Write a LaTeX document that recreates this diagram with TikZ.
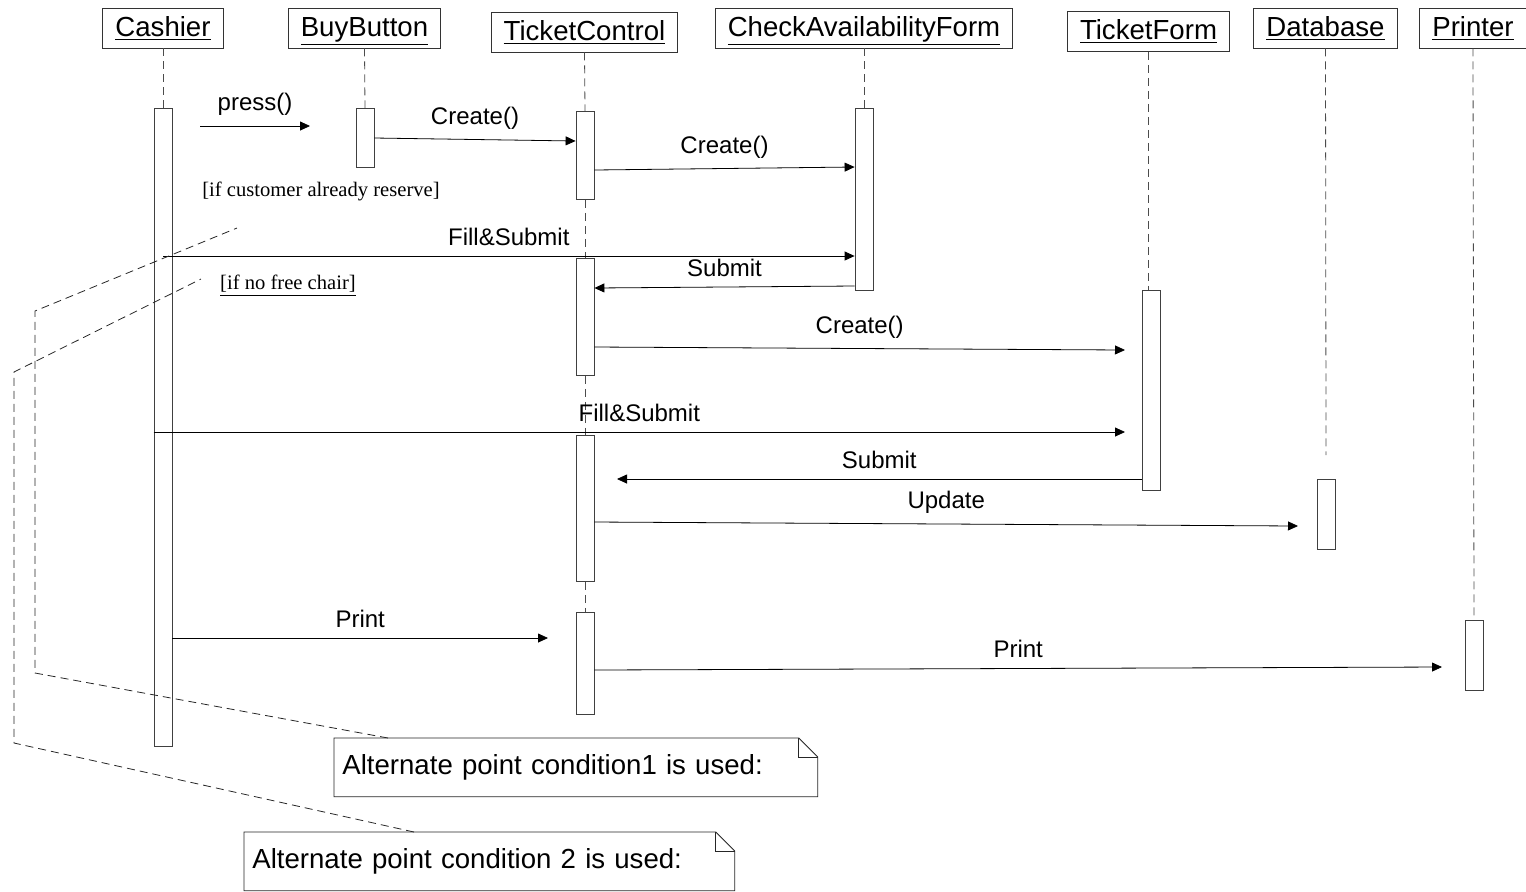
\documentclass[tikz,border=0pt]{standalone}
\usepackage{fontspec}
\setmainfont{Liberation Sans}
\newfontfamily\guardfont{Liberation Serif}
\usetikzlibrary{arrows.meta,shapes}

\tikzset{
  obj/.style={draw=black!80,rectangle,minimum height=20pt,inner xsep=6.3pt,inner ysep=3pt,text height=11pt,text depth=3pt,font=\fontsize{13.8}{16}\selectfont},
  act/.style={draw=black!75,fill=white,rectangle,minimum width=9pt,inner sep=0pt,anchor=north},
  life/.style={draw=black!70,dash pattern=on 4pt off 2.5pt},
  msg/.style={-{Triangle[length=5pt,width=4.5pt]},black},
  lbl/.style={font=\fontsize{12}{14}\selectfont,inner sep=0pt,above=5pt},
  guard/.style={font=\guardfont\fontsize{10.3}{12}\selectfont,inner sep=0pt},
  note/.style={rectangle,anchor=north west,inner xsep=4pt,inner ysep=0pt,minimum height=29pt,align=left,font=\fontsize{13.8}{16}\selectfont},
  notebox/.style={draw=black!85},
  notelink/.style={draw=black!85,dash pattern=on 4pt off 2.5pt}
}

\begin{document}
\begin{tikzpicture}[x=0.5pt,y=-0.5pt]
%
\useasboundingbox (0,0) rectangle (1526,891);
%
\node[obj] (csh) at (163,28) {\underline{Cashier}};
\node[obj] (bbh) at (364.5,28) {\underline{BuyButton}};
\node[obj] (tch) at (584.5,32) {\underline{TicketControl}};
\node[obj] (cafh) at (864,28) {\underline{CheckAvailabilityForm}};
\node[obj] (tfh) at (1148.5,31.5) {\underline{TicketForm}};
\node[obj] (dbh) at (1325.5,28) {\underline{Database}};
\node[obj] (prh) at (1473,28) {\underline{Printer}};
%
\node[act,minimum height=319pt] (cs) at (163,108) {};
\node[act,minimum height=29.5pt] (bb) at (365,108) {};
\node[act,minimum height=44pt] (tc1) at (585,111) {};
\node[act,minimum height=58.5pt] (tc2) at (585,258) {};
\node[act,minimum height=73pt] (tc3) at (585,435) {};
\node[act,minimum height=51pt] (tc4) at (585,612) {};
\node[act,minimum height=91pt] (caf) at (864,108) {};
\node[act,minimum height=100pt] (tf) at (1151,290) {};
\node[act,minimum height=35pt] (db) at (1326,479) {};
\node[act,minimum height=35pt] (pr) at (1474,620) {};
%
\coordinate (dbend) at (1326,455);
\draw[life] (csh.south) -- (cs.north);
\draw[life] (bbh.south) -- (bb.north);
\draw[life] (tch.south) -- (tc1.north);
\draw[life] (tc1.south) -- (tc2.north);
\draw[life] (tc2.south) -- (tc3.north);
\draw[life] (tc3.south) -- (tc4.north);
\draw[life] (cafh.south) -- (caf.north);
\draw[life] (tfh.south) -- (tfh.south |- tf.north);
\draw[life] (dbh.south) -- (dbend);
\draw[life] (prh.south) -- (pr.north);
%
\coordinate (pressA) at (200,126);
\coordinate (pressB) at (310,126);
\coordinate (tfin) at (1125,350);
\coordinate (tfin2) at (1125,432);
\coordinate (tcin) at (617,479);
\coordinate (dbin) at (1298,526);
\coordinate (tcin2) at (548,638);
\coordinate (prin) at (1442,667);
%
\draw[msg] (pressA) -- node[lbl] {press()} (pressB);
\draw[msg] (bb.east |- 0,138) -- node[lbl] {Create()} (tc1.west |- 0,141);
\draw[msg] (tc1.east |- 0,170) -- node[lbl] {Create()} (caf.west |- 0,167);
\draw[msg] (cs.center |- 0,256) -- node[lbl] {Fill\&Submit} (caf.west |- 0,256);
\draw[msg] (caf.west |- 0,286) -- node[lbl] {Submit} (tc2.east |- 0,288);
\draw[msg] (tc2.east |- 0,347) -- node[lbl] {Create()} (tfin);
\draw[msg] (cs.west |- 0,432) -- node[lbl] {Fill\&Submit} (tfin2);
\draw[msg] (tf.west |- 0,479) -- node[lbl] {Submit} (tcin);
\draw[msg] (tc3.east |- 0,522) -- node[lbl] {Update} (dbin);
\draw[msg] (cs.east |- 0,638) -- node[lbl] {Print} (tcin2);
\draw[msg] (tc4.east |- 0,670) -- node[lbl] {Print} (prin);
%
\node[guard] (g1) at (321,191) {[if customer already reserve]};
\node[guard] (g2) at (288,286) {\underline{[if no free chair]}};
%
\node[note,text width=233.5pt] (n1) at (334,738) {Alternate point condition1 is used:};
\node[note,text width=237pt] (n2) at (244,832) {Alternate point condition 2 is used:};
\draw[notebox] (n1.north west) -- ([xshift=-9.5pt]n1.north east) -- ([yshift=-9.5pt]n1.north east) -- (n1.south east) -- (n1.south west) -- cycle;
\draw[notebox] ([xshift=-9.5pt]n1.north east) |- ([yshift=-9.5pt]n1.north east);
\draw[notebox] (n2.north west) -- ([xshift=-9.5pt]n2.north east) -- ([yshift=-9.5pt]n2.north east) -- (n2.south east) -- (n2.south west) -- cycle;
\draw[notebox] ([xshift=-9.5pt]n2.north east) |- ([yshift=-9.5pt]n2.north east);
%
\coordinate (n1a) at (35,673);
\coordinate (n1b) at (35,311);
\coordinate (n1c) at (237,228);
\coordinate (n2a) at (14,743);
\coordinate (n2b) at (14,372);
\coordinate (n2c) at (201,279);
\draw[notelink] ([xshift=27pt]n1.north west) -- (n1a) -- (n1b) -- (n1c);
\draw[notelink] ([xshift=85pt]n2.north west) -- (n2a) -- (n2b) -- (n2c);
%
\end{tikzpicture}
\end{document}
